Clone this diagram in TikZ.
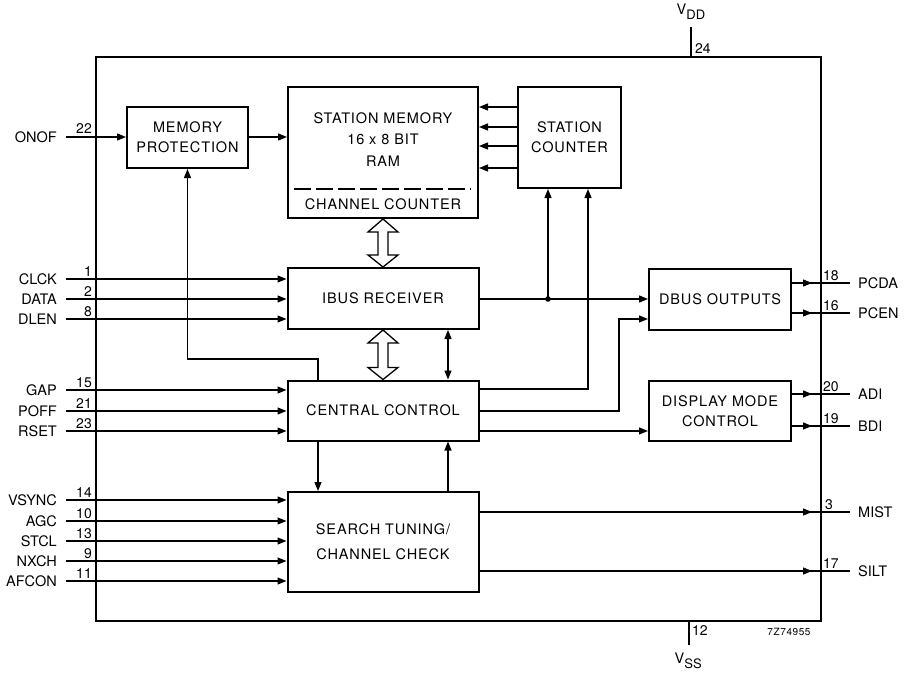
\documentclass[tikz,border=0pt]{standalone}
\usepackage{fontspec}
\setmainfont{TeX Gyre Heros}
\newfontfamily\boxfont{TeX Gyre Heros}[LetterSpace=6]
\usetikzlibrary{arrows.meta,decorations.markings,calc}
\newcommand\hollowarrow[2]{%
  \draw[line width=1.3pt, fill=white] (#1) -- ($(#1)+(15,13)$) -- ($(#1)+(5,13)$)
    -- ($(#2)+(5,-12)$) -- ($(#2)+(15,-12)$) -- (#2) -- ($(#2)+(-15,-12)$)
    -- ($(#2)+(-5,-12)$) -- ($(#1)+(-5,13)$) -- ($(#1)+(-15,13)$) -- cycle;}
\begin{document}
\begin{tikzpicture}[x=1pt,y=-1pt,
  every node/.style={font=\fontsize{14.5}{17}\selectfont},
  blk/.style={draw, line width=2pt, rectangle, inner sep=0pt,
    font=\boxfont\fontsize{14.5}{20}\selectfont, align=center},
  btxt/.style={font=\boxfont\fontsize{14.5}{17}\selectfont, inner sep=0pt},
  wire/.style={line width=1.3pt},
  arr/.style={wire, -{Triangle[length=9pt,width=7pt]}},
  darr/.style={wire, {Triangle[length=9pt,width=7pt]}-{Triangle[length=9pt,width=7pt]}},
  outarr/.style={wire, postaction={decorate}, decoration={markings,
    mark=at position -38pt with {\arrow{Triangle[length=9pt,width=7pt]}}}},
  pinl/.style={anchor=east, inner xsep=9pt, inner ysep=0pt},
  pinr/.style={anchor=west, inner xsep=8pt, inner ysep=0pt},
  numl/.style={font=\fontsize{14}{14}\selectfont, inner sep=0pt, anchor=south east},
  numr/.style={font=\fontsize{14}{14}\selectfont, inner sep=0pt, anchor=south west}
]
\useasboundingbox (0,0) rectangle (905,675);

% chip outline
\node[draw, line width=2pt, inner sep=0pt, minimum width=725, minimum height=564] (chip) at (458.5,339) {};

% supply pins
\coordinate (vddtop) at (691,27);
\draw[wire] (chip.north -| vddtop) -- (vddtop);
\node[inner sep=0pt, anchor=north west] (vdd) at (676.5,4) {V\raisebox{-5pt}{\fontsize{13}{13}\selectfont DD}};
\node[numr] (n24) at (695,54) {24};
\coordinate (vssbot) at (689,645);
\draw[wire] (chip.south -| vssbot) -- (vssbot);
\node[inner sep=0pt, anchor=north west] (vss) at (674.5,653) {V\raisebox{-5pt}{\fontsize{13}{13}\selectfont SS}};
\node[inner sep=0pt, anchor=north west, font=\fontsize{14}{14}\selectfont] (n12) at (692,625) {12};
\node[inner sep=0pt, font=\addfontfeature{LetterSpace=6}\fontsize{10}{10}\selectfont] (code) at (789,632) {7Z74955};

% blocks
\node[blk, minimum width=121, minimum height=61] (mp) at (187.5,137.5) {MEMORY\\PROTECTION};
\node[blk, minimum width=190, minimum height=131] (sm) at (383,152.5) {};
\node[btxt] (smt1) at (383,118) {STATION MEMORY};
\node[btxt] (smt2) at (383,139) {16 x 8 BIT};
\node[btxt] (smt3) at (383,161) {RAM};
\draw[line width=1.3pt, dash pattern=on 17pt off 5pt] (294,189) -- (471,189);
\node[btxt] (smt4) at (383,204) {CHANNEL COUNTER};
\node[blk, minimum width=103, minimum height=101] (sc) at (569.5,137.5) {STATION\\COUNTER};
\node[blk, minimum width=191, minimum height=61] (ibus) at (383,298.5) {IBUS RECEIVER};
\node[blk, minimum width=191, minimum height=60] (cc) at (383,410.5) {CENTRAL CONTROL};
\node[blk, minimum width=191, minimum height=100] (st) at (383,542) {SEARCH TUNING/\\[5pt]CHANNEL CHECK};
\node[blk, minimum width=142, minimum height=61] (dbus) at (720,299.5) {DBUS OUTPUTS};
\node[blk, minimum width=142, minimum height=60] (dmc) at (720,411) {DISPLAY MODE\\CONTROL};

% internal connections
\draw[arr] (mp.east |- 0,137) -- (sm.west |- 0,137);
\foreach \yy in {107,127,146,168} \draw[arr] (sc.west |- 0,\yy) -- (sm.east |- 0,\yy);
\hollowarrow{sm.south}{ibus.north}
\hollowarrow{ibus.south}{cc.north}
\draw[darr] (ibus.south -| 448,0) -- (cc.north -| 448,0);
\draw[arr] (cc.north -| 318,0) |- (mp.south |- 0,359) -- (mp.south);
\draw[arr] (cc.south -| 318,0) -- (st.north -| 318,0);
\draw[arr] (st.north -| 448,0) -- (cc.south -| 448,0);
\coordinate (j) at (548,299);
\draw[arr] (ibus.east |- j) -- (dbus.west |- j);
\fill (j) circle (2.8);
\draw[arr] (j) -- (sc.south -| j);
\draw[arr] (cc.east |- 0,389) -| (sc.south -| 588,0);
\coordinate (bend) at (619,319);
\draw[arr] (cc.east |- 0,411) -| (bend) -- (dbus.west |- bend);
\draw[arr] (cc.east |- 0,431) -- (dmc.west |- 0,431);

% left inputs
\node[pinl] (onof) at (66,137) {ONOF};
\node[numl] at (92,134) {22};
\draw[arr] (onof.east) -- (mp.west |- onof.east);
\foreach \nm/\yy/\pn in {clck/279/1, data/299/2, dlen/319/8}{
  \node[pinl] (\nm) at (66,\yy) {\MakeUppercase{\nm}};
  \node[numl] at (92,\yy-2.5) {\pn};
  \draw[arr] (\nm.east) -- (ibus.west |- \nm.east);
}
\foreach \nm/\yy/\pn in {gap/390/15, poff/411/21, rset/431/23}{
  \node[pinl] (\nm) at (66,\yy) {\MakeUppercase{\nm}};
  \node[numl] at (92,\yy-2.5) {\pn};
  \draw[arr] (\nm.east) -- (cc.west |- \nm.east);
}
\foreach \nm/\yy/\pn in {vsync/500/14, agc/521/10, stcl/541/13, nxch/561/9, afcon/581/11}{
  \node[pinl] (\nm) at (66,\yy) {\MakeUppercase{\nm}};
  \node[numl] at (92,\yy-2.5) {\pn};
  \draw[arr] (\nm.east) -- (st.west |- \nm.east);
}

% right outputs
\node[pinr] (pcda) at (850,283) {PCDA};
\node[numr] at (823,280.5) {18};
\draw[outarr] (dbus.east |- pcda.west) -- (pcda.west);
\node[pinr] (pcen) at (850,313) {PCEN};
\node[numr] at (823,310.5) {16};
\draw[outarr] (dbus.east |- pcen.west) -- (pcen.west);
\node[pinr] (adi) at (850,394) {ADI};
\node[numr] at (823,391.5) {20};
\draw[outarr] (dmc.east |- adi.west) -- (adi.west);
\node[pinr] (bdi) at (850,426) {BDI};
\node[numr] at (823,423.5) {19};
\draw[outarr] (dmc.east |- bdi.west) -- (bdi.west);
\node[pinr] (mist) at (850,512) {MIST};
\node[numr] at (825,509.5) {3};
\draw[outarr] (st.east |- mist.west) -- (mist.west);
\node[pinr] (silt) at (850,571) {SILT};
\node[numr] at (823,568.5) {17};
\draw[outarr] (st.east |- silt.west) -- (silt.west);
\end{tikzpicture}
\end{document}
